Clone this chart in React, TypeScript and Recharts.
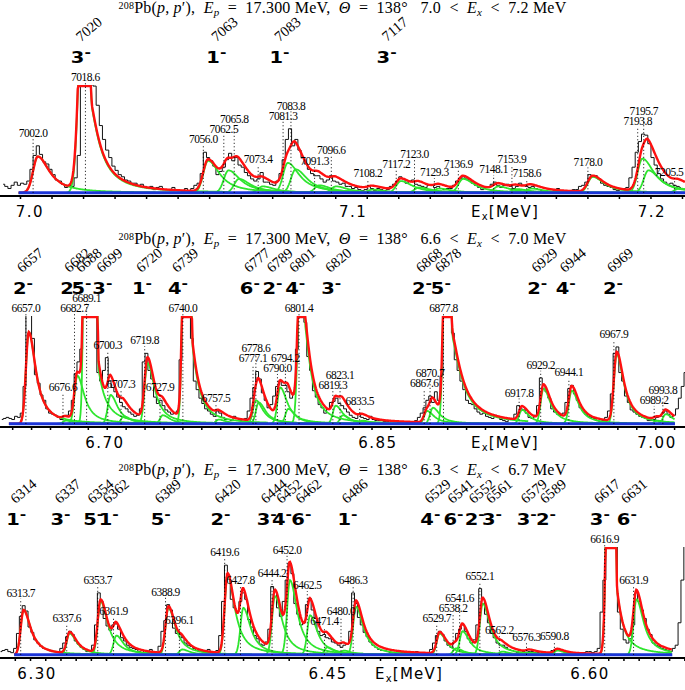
import React from 'react'
import { LineChart, Line, XAxis, YAxis, ReferenceLine, ReferenceDot } from 'recharts'

// common line shape of the fit (keV): gaussian rise, lorentzian tail
const SIGMA = 1.5
const GAMMA = 4.5
const SHIFT = 1.5
const Y_TOP = 101
const Y_BOTTOM = -3

// ----- panel 1 : 7.0 < Ex < 7.2 MeV -----
const title1 = ['7.0', '7.2']
const range1 = [6991.5, 7208.8]
const fit1 = [6997.4, 7208.8]
const levels1 = [7020, 7063, 7083, 7117]
const spins1 = ['3', '1', '1', '3']
const peakE1 = [7002.0, 7018.6, 7056.0, 7062.5, 7065.8, 7073.4, 7081.3, 7083.8, 7091.3, 7096.6, 7108.2,
  7117.2, 7123.0, 7129.3, 7136.9, 7148.1, 7153.9, 7158.6, 7178.0, 7193.8, 7195.7, 7205.5]
const peakH1 = [34, 257, 30, 21, 13, 6, 28, 22, 7, 6, 3, 11, 5, 4, 13, 6, 3.5, 4, 15, 32, 21, 4]
// saturated peaks: tail height, tail width, centre shift
const satE1 = [7018.6]
const satTail1 = [105]
const satWidth1 = [4.2]
const satShift1 = [-0.3]
const histStart1 = 6992.5
const histStep1 = 1
const hist1 = [
  8, 6, 4, 7, 10, 7, 9, 8, 11, 22, 35, 44, 36, 29, 27, 22, 17, 12, 11, 8,
  5, 7, 6, 14, 35, 130, 150, 150, 150, 100, 82, 63, 50, 40, 33, 25, 21, 17, 15, 12,
  11, 9, 9, 7, 8, 6, 4, 6, 3, 5, 6, 3, 3, 2, 5, 3, 2, 1, 4, 2,
  4, 7, 9, 18, 38, 33, 30, 25, 17, 20, 24, 31, 37, 30, 33, 26, 24, 19, 16, 13,
  11, 13, 19, 10, 10, 8, 7, 11, 18, 31, 50, 60, 44, 50, 40, 33, 27, 22, 18, 16,
  16, 13, 10, 12, 16, 11, 10, 8, 9, 6, 6, 4, 5, 3, 2, 3, 6, 4, 2, 4,
  3, 2, 3, 6, 8, 11, 15, 13, 9, 11, 12, 8, 7, 6, 5, 7, 7, 5, 6, 4,
  3, 4, 4, 7, 11, 13, 15, 13, 12, 9, 7, 5, 3, 5, 5, 8, 10, 7, 5, 7,
  8, 6, 4, 6, 9, 7, 6, 5, 6, 4, 3, 2, 2, 1, 1, 2, 4, 2, 1, 1,
  2, 3, 3, 6, 7, 10, 17, 15, 16, 13, 9, 7, 6, 5, 3, 2, 3, 4, 5, 14,
  24, 38, 48, 55, 54, 46, 33, 26, 18, 13, 10, 8, 9, 7, 6, 5,
]
const tickStart1 = 6998
const tickStep1 = 10
const axisText1 = ['7.0', '7.1', '7.2']
const axisTextAt1 = [7001, 7103.5, 7198.3]
const axisTitleAt1 = 7151.7

// ----- panel 2 : 6.6 < Ex < 7.0 MeV -----
const title2 = ['6.6', '7.0']
const range2 = [6643.3, 7005.5]
const fit2 = [6648, 7000.2]
const levels2 = [6657, 6682, 6688, 6699, 6720, 6739, 6777, 6789, 6801, 6820, 6868, 6878, 6929, 6944, 6969]
const spins2 = ['2', '2', '5', '3', '1', '4', '6', '2', '4', '3', '2', '5', '2', '4', '2']
const peakE2 = [6657.0, 6676.6, 6682.7, 6689.1, 6700.3, 6707.3, 6719.8, 6727.9, 6740.0, 6757.5, 6777.1,
  6778.6, 6790.0, 6794.2, 6801.4, 6819.3, 6823.1, 6833.5, 6867.6, 6870.7, 6877.8, 6917.8, 6929.2,
  6944.1, 6967.9, 6989.2, 6993.8]
const peakH2 = [86, 3, 45, 3200, 27, 7, 57, 8, 480, 4, 22, 20, 34, 14, 215, 17, 8, 3, 12, 15, 360, 13, 33,
  31, 65, 3, 9]
const satE2 = [6689.1, 6740.0, 6801.4, 6877.8]
const satTail2 = [100, 105, 110, 93]
const satWidth2 = [4.5, 4.5, 4.5, 7]
const satShift2 = [1.9, 2.1, 1.3, 2.1]
const histStart2 = 6644.25
const histStep2 = 1.5
const hist2 = [
  4, 5, 6, 5, 4, 7, 6, 10, 35, 120, 110, 80, 46, 38, 27, 22, 14, 10, 9, 8,
  6, 4, 7, 8, 12, 22, 47, 58, 70, 130, 130, 130, 130, 120, 48, 40, 50, 62, 40, 34,
  30, 25, 20, 16, 14, 11, 9, 7, 8, 14, 58, 66, 50, 42, 25, 19, 22, 17, 13, 11,
  9, 10, 12, 60, 130, 130, 120, 80, 40, 32, 24, 19, 14, 12, 9, 7, 12, 10, 6, 4,
  4, 3, 7, 5, 3, 4, 5, 12, 24, 34, 49, 42, 29, 22, 15, 18, 26, 35, 40, 36,
  36, 30, 24, 28, 70, 130, 120, 95, 63, 50, 31, 25, 18, 15, 10, 14, 20, 21, 24, 19,
  17, 14, 11, 8, 6, 5, 9, 6, 5, 4, 7, 4, 3, 3, 4, 2, 2, 3, 3, 2,
  1, 2, 2, 1, 1, 2, 3, 6, 10, 15, 22, 26, 20, 30, 22, 45, 130, 130, 130, 85,
  60, 50, 40, 32, 22, 19, 18, 14, 11, 9, 10, 7, 6, 5, 8, 6, 4, 3, 2, 4,
  5, 9, 17, 14, 13, 10, 6, 5, 8, 17, 43, 36, 30, 24, 14, 11, 9, 8, 10, 20,
  33, 36, 28, 22, 15, 12, 9, 7, 6, 5, 3, 2, 3, 6, 12, 28, 66, 72, 48, 40,
  26, 20, 13, 11, 9, 7, 6, 5, 3, 3, 4, 6, 7, 10, 12, 9, 6, 8, 14, 24,
  35, 48,
]
const tickStart2 = 6650
const tickStep2 = 10
const axisText2 = ['6.70', '6.85', '7.00']
const axisTextAt2 = [6698.8, 6843.1, 6990.7]
const axisTitleAt2 = 6910.3

// ----- panel 3 : 6.3 < Ex < 6.7 MeV -----
const title3 = ['6.3', '6.7']
const range3 = [6302.95, 6658.6]
const fit3 = [6310.3, 6652]
const levels3 = [6314, 6337, 6354, 6362, 6389, 6420, 6444, 6452, 6462, 6486, 6529, 6541, 6552, 6561,
  6579, 6589, 6617, 6631]
const spins3 = ['1', '3', '5', '1', '5', '2', '3', '4', '6', '1', '4', '6', '2', '3', '3', '2', '3', '6']
const peakE3 = [6313.7, 6337.6, 6353.7, 6361.9, 6388.9, 6396.1, 6419.6, 6427.8, 6444.2, 6452.0, 6462.5,
  6471.4, 6480.0, 6486.3, 6529.7, 6538.2, 6541.6, 6552.1, 6562.2, 6576.3, 6590.8, 6616.9, 6631.9]
const peakH3 = [42, 20, 50, 18, 44, 5, 75, 44, 55, 70, 37, 7, 4, 45, 20, 6, 22, 48, 3, 2, 4, 600, 52]
const satE3 = [6616.9]
const satTail3 = [100]
const satWidth3 = [4]
const satShift3 = [3.2]
const histStart3 = 6303.25
const histStep3 = 1.5
const hist3 = [
  3, 4, 5, 3, 2, 6, 20, 36, 46, 41, 26, 21, 14, 11, 8, 6, 5, 4, 3, 3,
  3, 6, 11, 17, 22, 19, 13, 10, 7, 5, 3, 4, 9, 28, 58, 50, 34, 27, 23, 28,
  29, 24, 16, 13, 9, 7, 6, 5, 3, 2, 4, 2, 5, 3, 2, 8, 22, 32, 47, 42,
  25, 20, 19, 16, 11, 9, 8, 6, 4, 3, 3, 2, 5, 3, 2, 4, 18, 50, 84, 74,
  52, 44, 40, 50, 58, 52, 33, 26, 18, 15, 10, 9, 12, 24, 64, 60, 44, 36, 50, 70,
  86, 76, 48, 38, 28, 30, 47, 53, 42, 34, 22, 18, 19, 16, 15, 12, 11, 9, 7, 9,
  10, 22, 58, 48, 35, 28, 21, 17, 12, 9, 7, 5, 4, 4, 3, 2, 2, 1, 3, 2,
  2, 1, 1, 2, 3, 1, 1, 2, 2, 5, 11, 18, 22, 19, 13, 9, 7, 12, 20, 24,
  28, 22, 15, 11, 14, 28, 62, 52, 38, 30, 20, 16, 11, 9, 9, 7, 5, 4, 3, 2,
  2, 3, 4, 3, 3, 2, 2, 1, 1, 2, 2, 4, 5, 4, 4, 3, 2, 1, 1, 2,
  1, 2, 2, 3, 3, 2, 3, 6, 40, 70, 130, 130, 130, 110, 40, 24, 14, 11, 15, 28,
  58, 50, 42, 34, 24, 19, 11, 9, 8, 6, 5, 4, 3, 6, 9, 30, 70, 120,
]
const tickStart3 = 6310.9
const tickStep3 = 7.9
const axisText3 = ['6.30', '6.45', '6.60']
const axisTextAt3 = [6322.2, 6473.3, 6609.3]
const axisTitleAt3 = 6515.3

type Peak = { e: number; h: number; tail: number; w: number; shift: number }

function makePeaks(E: number[], H: number[], satE: number[], satTail: number[], satW: number[], satS: number[]): Peak[] {
  return E.map((e, i) => {
    const k = satE.indexOf(e)
    return k >= 0
      ? { e, h: H[i], tail: satTail[k], w: satW[k], shift: satS[k] }
      : { e, h: H[i], tail: H[i], w: GAMMA, shift: SHIFT }
  })
}

function peakValue(x: number, p: Peak) {
  const d = x - (p.e + p.shift)
  const core = p.h * Math.exp(-d * d / (2 * SIGMA * SIGMA))
  if (d <= 0) return core
  return Math.max(core, p.tail / (1 + (d / p.w) * (d / p.w)))
}

const panels = [
  {
    title: title1, range: range1, fit: fit1, levels: levels1, spins: spins1,
    peaks: makePeaks(peakE1, peakH1, satE1, satTail1, satWidth1, satShift1),
    hist: hist1, histStart: histStart1, histStep: histStep1, tickStart: tickStart1, tickStep: tickStep1,
    axisText: axisText1, axisTextAt: axisTextAt1, axisTitleAt: axisTitleAt1, rotDx: -1, spinDx: -9,
  },
  {
    title: title2, range: range2, fit: fit2, levels: levels2, spins: spins2,
    peaks: makePeaks(peakE2, peakH2, satE2, satTail2, satWidth2, satShift2),
    hist: hist2, histStart: histStart2, histStep: histStep2, tickStart: tickStart2, tickStep: tickStep2,
    axisText: axisText2, axisTextAt: axisTextAt2, axisTitleAt: axisTitleAt2, rotDx: 4, spinDx: -3,
  },
  {
    title: title3, range: range3, fit: fit3, levels: levels3, spins: spins3,
    peaks: makePeaks(peakE3, peakH3, satE3, satTail3, satWidth3, satShift3),
    hist: hist3, histStart: histStart3, histStep: histStep3, tickStart: tickStart3, tickStep: tickStep3,
    axisText: axisText3, axisTextAt: axisTextAt3, axisTitleAt: axisTitleAt3, rotDx: 2, spinDx: -5,
  },
]

const W = 685
const PANEL_H = 231
const serif = '"Liberation Serif", "Times New Roman", serif'
const sans = '"DejaVu Sans", sans-serif'

function Title({ lo, hi }: { lo: string; hi: string }) {
  const sub = { fontSize: 11, position: 'relative' as const, top: 3 }
  return (
    <div style={{
      position: 'absolute', top: 1, left: 0, width: W, textAlign: 'center',
      fontFamily: serif, fontSize: 16, lineHeight: '14px', whiteSpace: 'pre', color: '#000', letterSpacing: 0.2,
    }}>
      <span style={{ fontSize: 10, position: 'relative', top: -4 }}>208</span>Pb(<i>p</i>,<i> p</i>′),  <i>E</i>
      <span style={sub}><i>p</i></span>  =  17.300 MeV,  <i>Θ</i>  =  138°   {lo}  &lt;  <i>E</i>
      <span style={sub}><i>x</i></span>  &lt;  {hi} MeV
    </div>
  )
}

function Panel({ p, top }: { p: typeof panels[number]; top: number }) {
  const pxPerKeV = W / (p.range[1] - p.range[0])
  const step = (p.range[1] - p.range[0]) / 1100

  const grid: number[] = []
  for (let x = p.fit[0]; x <= p.fit[1] + 1e-9; x += step) grid.push(x)
  const red = grid.map(x => ({ x, y: Math.min(100, p.peaks.reduce((s, pk) => s + peakValue(x, pk), 0)) }))
  const greens = p.peaks.map(pk =>
    grid.filter(x => x > pk.e - 6 && x < pk.e + 45).map(x => ({ x, y: Math.min(150, peakValue(x, pk)) })))
  const histData = p.hist.map((v, i) => ({ x: p.histStart + i * p.histStep, y: v }))
  const base = [{ x: p.fit[0], y: 0 }, { x: p.fit[1], y: 0 }]

  // label heights: above the local maximum of the spectrum, raised when two labels collide
  const labelY: number[] = []
  p.peaks.forEach((pk, i) => {
    const c = Math.round((pk.e + SHIFT - p.histStart) / p.histStep)
    let m = 0
    for (let k = c - 2; k <= c + 2; k++) if (k >= 0 && k < p.hist.length) m = Math.max(m, p.hist[k])
    let y = Math.min(Math.min(m, 100) + 8.5, 104.7)
    if (i > 0) {
      const dx = (pk.e - p.peaks[i - 1].e) * pxPerKeV
      const prev = labelY[i - 1]
      if (dx < 12 || (dx < 22 && Math.abs(y - prev) < 9.5)) y = Math.max(y, prev + 9.5)
    }
    labelY.push(y)
  })

  const ticks: number[] = []
  for (let t = p.tickStart; t <= p.range[1]; t += p.tickStep) ticks.push(+t.toFixed(2))
  const allTicks = [...ticks, ...p.axisTextAt, p.axisTitleAt]

  const renderTick = (props: any) => {
    const { x, y, payload } = props
    const v = payload.value
    const li = p.axisTextAt.indexOf(v)
    if (li >= 0) {
      return (
        <text x={x} y={y + 21} textAnchor="middle" fontSize={15} fontFamily={sans} letterSpacing={1.5} fill="#000">
          {p.axisText[li]}
        </text>
      )
    }
    if (v === p.axisTitleAt) {
      return (
        <text x={x} y={y + 21} textAnchor="middle" fontSize={15} fontFamily={sans} letterSpacing={1.2} fill="#000">
          E<tspan fontSize={10} dy={3}>x</tspan><tspan dy={-3}>[MeV]</tspan>
        </text>
      )
    }
    return <line x1={x} x2={x} y1={y} y2={y + 3} stroke="#000" strokeWidth={1.5} />
  }

  return (
    <div style={{ position: 'absolute', left: 0, top, width: W, height: PANEL_H }}>
      <Title lo={p.title[0]} hi={p.title[1]} />
      <div style={{ position: 'absolute', left: 0, top: 0 }}>
        <LineChart width={W} height={PANEL_H} margin={{ top: 85, right: 0, bottom: 5, left: 0 }}>
          <XAxis
            type="number" dataKey="x" domain={p.range} allowDataOverflow ticks={allTicks} interval={0}
            tickLine={false} tickSize={0} tickMargin={0} tick={renderTick} height={30}
            axisLine={{ stroke: '#000', strokeWidth: 2 }}
          />
          <YAxis hide type="number" domain={[Y_BOTTOM, Y_TOP]} allowDataOverflow />
          <Line data={histData} dataKey="y" type="step" stroke="#111" strokeWidth={1} dot={false} isAnimationActive={false} />
          {greens.map((g, i) => (
            <Line key={'g' + i} data={g} dataKey="y" type="linear" stroke="#2ee52e" strokeWidth={1.8} dot={false} isAnimationActive={false} />
          ))}
          <Line data={red} dataKey="y" type="linear" stroke="#ff1010" strokeWidth={2.4} dot={false} isAnimationActive={false} />
          <Line data={base} dataKey="y" type="linear" stroke="#1b34d8" strokeWidth={3} dot={false} isAnimationActive={false} />
          {p.peaks.map((pk, i) => (
            <ReferenceLine
              key={'l' + i} ifOverflow="visible" stroke="#000" strokeWidth={1} strokeDasharray="1 2.5"
              segment={[{ x: pk.e, y: 0 }, { x: pk.e, y: labelY[i] - 1.8 }]}
            />
          ))}
          {p.peaks.map((pk, i) => (
            <ReferenceDot
              key={'t' + i} x={pk.e} y={labelY[i]} r={0} ifOverflow="visible"
              shape={(s: any) => (
                <text
                  x={Math.min(s.cx, W - 16)} y={s.cy} textAnchor="middle" fontSize={11.5} letterSpacing={-0.5}
                  fontFamily={serif} fill="#000"
                >
                  {pk.e.toFixed(1)}
                </text>
              )}
            />
          ))}
          {p.levels.map((lv, i) => (
            <ReferenceDot
              key={'v' + i} x={lv} y={Y_TOP} r={0} ifOverflow="visible"
              shape={(s: any) => (
                <g>
                  <text
                    transform={`translate(${s.cx + p.rotDx}, ${s.cy - 56}) rotate(-40)`}
                    textAnchor="middle" dominantBaseline="central" fontSize={14.5} fontFamily={serif} fill="#000"
                  >
                    {lv}
                  </text>
                  <g transform={`translate(${s.cx + p.spinDx}, ${s.cy - 22}) scale(1.3, 1)`}>
                    <text textAnchor="middle" fontSize={15} fontWeight="bold" fontFamily={sans} fill="#000">
                      {p.spins[i]}<tspan fontSize={12} dy={-6}>-</tspan>
                    </text>
                  </g>
                </g>
              )}
            />
          ))}
        </LineChart>
      </div>
    </div>
  )
}

export default function App() {
  return (
    <div style={{ position: 'absolute', left: 0, top: 0, width: W, height: 690, background: '#fff', overflow: 'hidden' }}>
      {panels.map((p, i) => <Panel key={i} p={p} top={[0, 231, 462][i]} />)}
    </div>
  )
}
